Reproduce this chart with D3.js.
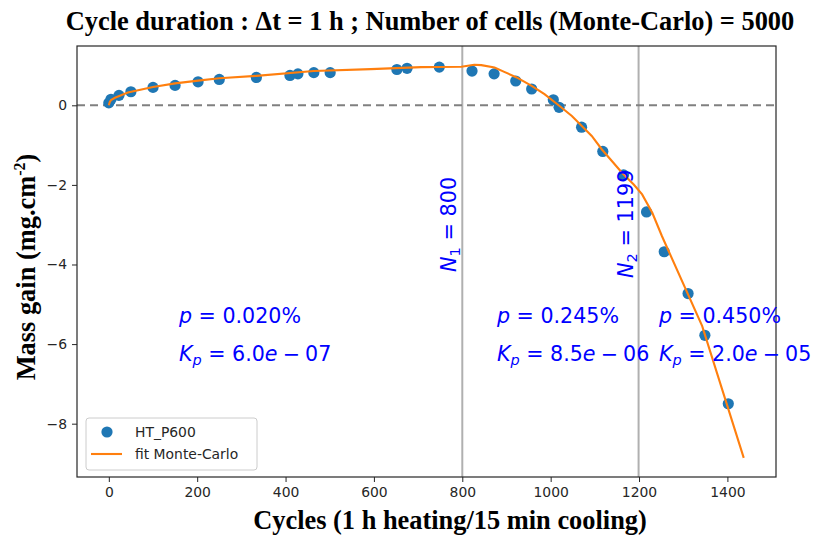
<!DOCTYPE html>
<html><head><meta charset="utf-8">
<script src="https://cdn.jsdelivr.net/npm/d3@7"></script>
<style>body{margin:0;background:#fff}svg{display:block}</style>
</head><body>
<svg id="c" width="815" height="536"></svg>
<script>
const dataX = [0,5,23,50,100,150,202,250,334,410,428,464,501,652,675,748,822,872,921,957,1006,1019,1070,1118,1165,1217,1257,1311,1349,1402];
const dataY = [0.06,0.15,0.25,0.34,0.45,0.50,0.59,0.65,0.70,0.75,0.79,0.82,0.82,0.90,0.93,0.96,0.86,0.79,0.61,0.41,0.14,-0.05,-0.55,-1.16,-1.75,-2.68,-3.68,-4.73,-5.78,-7.50];
const fitX = [0,2,5,14,43,100,150,202,250,334,464,593,707,798,827,843,873,895,923,957,986,1018,1048,1093,1116,1161,1188,1207,1230,1252,1343,1437];
const fitY = [0,0.08,0.13,0.19,0.32,0.46,0.55,0.62,0.68,0.74,0.86,0.91,0.96,0.97,1.02,1.01,0.95,0.84,0.70,0.49,0.28,0.0,-0.27,-0.77,-1.11,-1.69,-1.99,-2.24,-2.70,-3.29,-5.55,-8.86];
const xTicks = [0,200,400,600,800,1000,1200,1400];
const yTicks = [0,-2,-4,-6,-8];
const vLines = [800,1199];
const nLabels = [["1","800"],["2","1199"]];
const pLabels = ["0.020%","0.245%","0.450%"];
const kLabels = ["6.0","8.5","2.0"];
const kExps = ["07","06","05"];
const legendNames = ["HT_P600","fit Monte-Carlo"];
const titleText = "Cycle duration : \u0394t = 1 h ; Number of cells (Monte-Carlo) = 5000";
const xLabelText = "Cycles (1 h heating/15 min cooling)";

const svg = d3.select("#c");
const L=77,R=776,T=46,B=477;
const x = d3.scaleLinear().domain([-72,1510]).range([L,R]);
const y = d3.scaleLinear().domain([-9.34,1.49]).range([B,T]);
const sans = "DejaVu Sans, sans-serif", serif = "Liberation Serif, Times New Roman, serif";
const blue = "#0000ff";

// vertical lines
svg.selectAll(".vl").data(vLines).enter().append("line")
  .attr("x1",d=>x(d)).attr("x2",d=>x(d)).attr("y1",T).attr("y2",B)
  .attr("stroke","#b0b0b0").attr("stroke-width",2);
// zero dashed line
svg.append("line").attr("x1",L).attr("x2",R).attr("y1",y(0)).attr("y2",y(0))
  .attr("stroke","#808080").attr("stroke-width",2).attr("stroke-dasharray","8,5");

// points
svg.selectAll(".pt").data(dataX.map((d,i)=>[d,dataY[i]])).enter().append("circle")
  .attr("cx",d=>x(d[0])).attr("cy",d=>y(d[1])).attr("r",5.6).attr("fill","#1f77b4");
// fit line
svg.append("path").datum(fitX.map((d,i)=>[d,fitY[i]]))
  .attr("d",d3.line().x(d=>x(d[0])).y(d=>y(d[1])))
  .attr("fill","none").attr("stroke","#ff7f0e").attr("stroke-width",2.1);

// axes
const gx = svg.append("g").attr("transform",`translate(0,${B})`)
  .call(d3.axisBottom(x).tickValues(xTicks).tickSize(5).tickPadding(5).tickFormat(d3.format("d")));
const gy = svg.append("g").attr("transform",`translate(${L},0)`)
  .call(d3.axisLeft(y).tickValues(yTicks).tickSize(5).tickPadding(5).tickFormat(d=>d<0?"\u2212"+(-d):d));
[gx,gy].forEach(g=>{g.select(".domain").remove();
  g.selectAll("text").attr("font-family",sans).attr("font-size",13.9).attr("fill","#262626");
  g.selectAll("line").attr("stroke","#262626").attr("stroke-width",1);});
svg.append("rect").attr("x",L).attr("y",T).attr("width",R-L).attr("height",B-T)
  .attr("fill","none").attr("stroke","#262626").attr("stroke-width",1.2);

// N labels (rotated)
const nPos = [[456,272],[633,278]];
nLabels.forEach((n,i)=>{
  const t = svg.append("text").attr("transform",`translate(${nPos[i][0]},${nPos[i][1]}) rotate(-90)`)
    .attr("font-family",sans).attr("font-size",20.8).attr("fill",blue);
  t.append("tspan").attr("font-style","italic").text("N");
  t.append("tspan").attr("font-size",14.5).attr("dy",4).text(n[0]);
  t.append("tspan").attr("dy",-4).text(" = "+n[1]);
});

// p / Kp labels
const pxPos = [179,497,659];
pLabels.forEach((p,i)=>{
  const t1 = svg.append("text").attr("x",pxPos[i]).attr("y",323)
    .attr("font-family",sans).attr("font-size",20.6).attr("fill",blue);
  t1.append("tspan").attr("font-style","italic").text("p");
  t1.append("tspan").text(" = "+p);
  const t2 = svg.append("text").attr("x",pxPos[i]).attr("y",361)
    .attr("font-family",sans).attr("font-size",20.6).attr("fill",blue);
  t2.append("tspan").attr("font-style","italic").text("K");
  t2.append("tspan").attr("font-style","italic").attr("font-size",14.5).attr("dy",4).text("p");
  t2.append("tspan").attr("dy",-4).text(" = "+kLabels[i]);
  t2.append("tspan").attr("font-style","italic").text("e");
  t2.append("tspan").text("\u2005\u2212\u2005"+kExps[i]);
});

// legend
const lg = svg.append("g");
lg.append("rect").attr("x",86).attr("y",418).attr("width",171).attr("height",52).attr("rx",3)
  .attr("fill","#fff").attr("fill-opacity",0.8).attr("stroke","#cccccc").attr("stroke-width",1);
lg.append("circle").attr("cx",107).attr("cy",432).attr("r",5.6).attr("fill","#1f77b4");
lg.append("line").attr("x1",91).attr("x2",122).attr("y1",454).attr("y2",454).attr("stroke","#ff7f0e").attr("stroke-width",2.1);
legendNames.forEach((n,i)=>lg.append("text").attr("x",135).attr("y",437+i*22)
  .attr("font-family",sans).attr("font-size",13.9).attr("fill","#262626").text(n));

// title and axis labels
svg.append("text").attr("x",430).attr("y",30).attr("text-anchor","middle")
  .attr("font-family",serif).attr("font-weight","bold").attr("font-size",26.4).attr("fill","#000").text(titleText);
svg.append("text").attr("x",450).attr("y",529).attr("text-anchor","middle")
  .attr("font-family",serif).attr("font-weight","bold").attr("font-size",26.4).attr("fill","#000").text(xLabelText);
const yl = svg.append("text").attr("transform","translate(35,267) rotate(-90)").attr("text-anchor","middle")
  .attr("font-family",serif).attr("font-weight","bold").attr("font-size",26.4).attr("fill","#000");
yl.append("tspan").text("Mass gain (mg.cm");
yl.append("tspan").attr("font-size",16).attr("dy",-10).text("-2");
yl.append("tspan").attr("dy",10).text(")");
</script>
</body></html>
